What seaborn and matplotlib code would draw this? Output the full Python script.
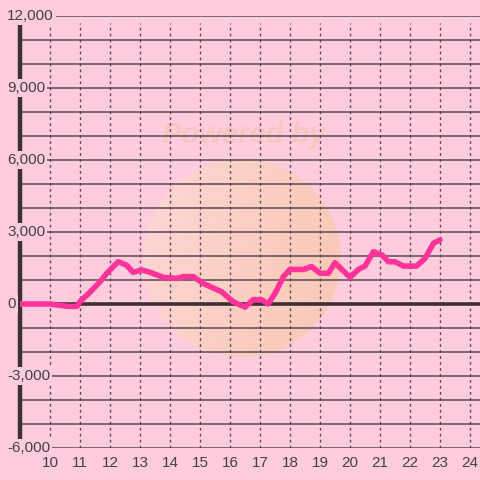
import numpy as np
import pandas as pd
import seaborn as sns
import matplotlib.pyplot as plt
from matplotlib.patches import Ellipse
from matplotlib.colors import LinearSegmentedColormap

# hours and values
hours = [9.0, 10.0, 10.6, 10.9, 11.0, 11.3, 11.67, 11.9, 12.27, 12.55, 12.77, 13.05, 13.27,
         13.78, 14.22, 14.44, 14.78, 15.1, 15.72, 16.1, 16.5, 16.78, 17.07, 17.27, 17.5,
         17.78, 18.0, 18.44, 18.72, 19.0, 19.28, 19.5, 20.0, 20.28, 20.5, 20.78, 21.07,
         21.28, 21.5, 21.78, 22.22, 22.5, 22.78, 23.0]
values = [0, 0, -100, -100, 100, 450, 930, 1290, 1760, 1620, 1320, 1420, 1350,
          1110, 1070, 1140, 1140, 860, 510, 100, -130, 190, 170, 0, 440,
          1140, 1440, 1440, 1560, 1280, 1280, 1720, 1110, 1440, 1580, 2180, 2040,
          1760, 1760, 1580, 1580, 1900, 2530, 2670]

y_ticks = [-6000, -3000, 0, 3000, 6000, 9000, 12000]
x_ticks = list(range(10, 25))

bg = '#ffccdd'
dark = '#3a3035'
grid_col = '#5e4654'

df = pd.DataFrame({'hour': hours, 'value': values})

sns.set_style('white')
plt.rcParams['font.family'] = ['Liberation Sans', 'DejaVu Sans']

fig = plt.figure(figsize=(4.8, 4.8), dpi=100, facecolor=bg)
ax = fig.add_axes([20 / 480, 32 / 480, 460 / 480, 432 / 480])
ax.set_facecolor(bg)
for s in ax.spines.values():
    s.set_visible(False)

# watermark: faint gradient disc and text
cx, cy, rx, ry = 16.4, 1900, 99 / 30, 99 * 1000 / 24
cmap = LinearSegmentedColormap.from_list('wm', ['#fdd7d6', '#fbd0c0', '#f9c8b2'])
grad = np.linspace(0, 1, 100)[None, :] + np.linspace(0, 0.3, 100)[:, None]
im = ax.imshow(grad, extent=(cx - rx, cx + rx, cy - ry, cy + ry), cmap=cmap,
               aspect='auto', origin='upper', zorder=0, alpha=0.9)
disc = Ellipse((cx, cy), 2 * rx, 2 * ry, transform=ax.transData)
im.set_clip_path(disc)
ax.text(16.45, 7040, 'Powered by', ha='center', va='center', fontsize=21,
        fontweight='bold', fontstyle='italic', color='#f7c6c0', zorder=0)
ax.set_xlim(9, 9 + 460 / 30)
ax.set_ylim(-6000, 12000)

# grid
for v in range(-6000, 12001, 1000):
    if v == 0:
        continue
    ax.axhline(v, color=grid_col, lw=1.1, zorder=1)
for h in x_ticks:
    ax.plot([h, h], [-6000, 11700], color=grid_col, lw=1, ls=(0, (2, 2.3)), zorder=1)
ax.axhline(0, color=dark, lw=2.6, zorder=2)
ax.plot([9, 9], [-6000, 11700], color=dark, lw=3.2, zorder=2, clip_on=False)

sns.lineplot(data=df, x='hour', y='value', ax=ax, color='#ff3399', lw=4,
             zorder=5, solid_capstyle='round', solid_joinstyle='round')

# y labels, left aligned with background box covering the axis
for v in y_ticks:
    ax.annotate(f'{v:,}', xy=(9, v), xytext=(-13, 0), textcoords='offset pixels',
                ha='left', va='center', fontsize=11, color='#444044',
                bbox=dict(facecolor=bg, edgecolor='none', pad=1.5),
                annotation_clip=False, zorder=10)

ax.set_xticks(x_ticks)
ax.set_xticklabels([str(h) for h in x_ticks])
ax.set_yticks([])
ax.tick_params(axis='x', length=0, pad=6, labelsize=11, labelcolor='#444044')
ax.set_xlabel('')
ax.set_ylabel('')

fig.savefig('out.png', dpi=100, facecolor=bg)
